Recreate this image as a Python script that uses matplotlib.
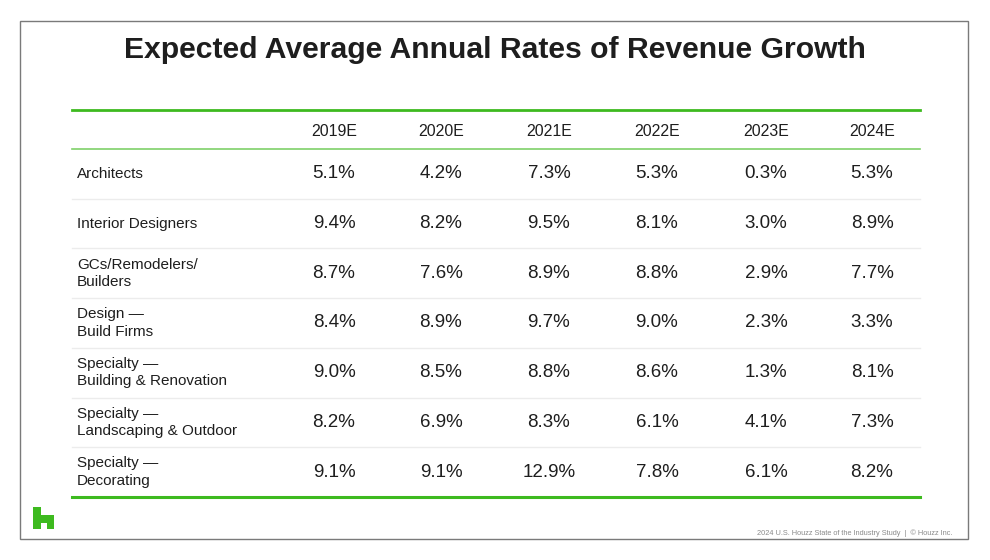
import matplotlib.pyplot as plt
from matplotlib.patches import Rectangle, Polygon

plt.rcParams['font.family'] = ['Liberation Sans', 'DejaVu Sans']

title = "Expected Average Annual Rates of Revenue Growth"
years = ["2019E", "2020E", "2021E", "2022E", "2023E", "2024E"]
categories = [
    "Architects",
    "Interior Designers",
    "GCs/Remodelers/\nBuilders",
    "Design \u2014\nBuild Firms",
    "Specialty \u2014\nBuilding & Renovation",
    "Specialty \u2014\nLandscaping & Outdoor",
    "Specialty \u2014\nDecorating",
]
growth = [
    [5.1, 4.2, 7.3, 5.3, 0.3, 5.3],
    [9.4, 8.2, 9.5, 8.1, 3.0, 8.9],
    [8.7, 7.6, 8.9, 8.8, 2.9, 7.7],
    [8.4, 8.9, 9.7, 9.0, 2.3, 3.3],
    [9.0, 8.5, 8.8, 8.6, 1.3, 8.1],
    [8.2, 6.9, 8.3, 6.1, 4.1, 7.3],
    [9.1, 9.1, 12.9, 7.8, 6.1, 8.2],
]
footer = "2024 U.S. Houzz State of the Industry Study  |  \u00a9 Houzz Inc."

green = "#3dba1f"
light_green = "#7fd16a"
sep_grey = "#ececec"
text_col = "#1e1e1e"

fig = plt.figure(figsize=(9.9, 5.6), dpi=100)
ax = fig.add_axes([0, 0, 1, 1])
ax.set_xlim(0, 990)
ax.set_ylim(560, 0)
ax.axis("off")

# slide frame
ax.add_patch(Rectangle((20, 21), 948, 518, fill=False, ec="#7a7a7a", lw=1.0))

ax.text(495, 50, title, ha="center", va="center", fontsize=21.7,
        fontweight="bold", color=text_col)

# table geometry
left, right = 72, 920
top_line = 110
head_line = 149
row_h = 49.7
col_x = [334, 441, 549, 657, 766, 872]

ax.plot([left, right], [top_line, top_line], color=green, lw=2.0)
ax.plot([left, right], [head_line, head_line], color=light_green, lw=1.2)

for x, y in zip(col_x, years):
    ax.text(x, 131, y, ha="center", va="center", fontsize=11.4, color=text_col)

for i, (cat, vals) in enumerate(zip(categories, growth)):
    yc = head_line + row_h * (i + 0.5)
    ax.text(77, yc, cat, ha="left", va="center", fontsize=11,
            color=text_col, linespacing=1.3)
    for x, v in zip(col_x, vals):
        ax.text(x, yc, f"{v:.1f}%", ha="center", va="center",
                fontsize=13.5, color=text_col)
    if i < len(categories) - 1:
        ys = head_line + row_h * (i + 1)
        ax.plot([left, right], [ys, ys], color=sep_grey, lw=1.0)

bottom = head_line + row_h * len(categories)
ax.plot([left, right], [bottom, bottom], color=green, lw=2.2)

# houzz logo
logo = [(33, 529), (33, 507), (41, 507), (41, 515), (54, 515), (54, 529),
        (47, 529), (47, 523), (41, 523), (41, 529)]
ax.add_patch(Polygon(logo, closed=True, fc=green, ec="none"))

ax.text(952, 533, footer, ha="right", va="center", fontsize=5.3,
        color="#8a8a8a")

fig.savefig("out.png", dpi=100)
